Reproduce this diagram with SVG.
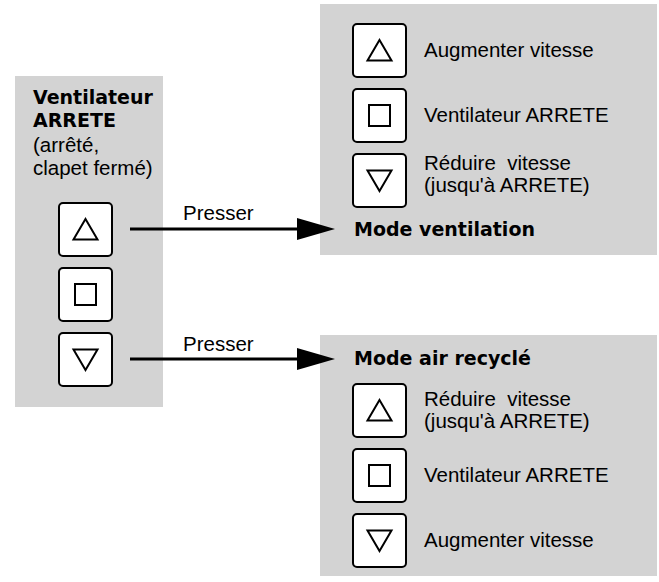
<svg xmlns="http://www.w3.org/2000/svg" xmlns:xlink="http://www.w3.org/1999/xlink" width="659" height="582" viewBox="0 0 659 582">
<style>
.panel{fill:#d3d3d3;stroke:none}
.btn{fill:#ffffff;stroke:#000;stroke-width:2}
.ico{fill:none;stroke:#000;stroke-width:2;stroke-linejoin:miter}
.t{font-family:"Liberation Sans",Arial,sans-serif;font-size:20.5px;fill:#000}
.b{font-family:"DejaVu Sans","Liberation Sans",sans-serif;font-weight:bold;font-size:19px;fill:#000}
.conn{stroke:#000;stroke-width:3;fill:none}
</style>
<defs>
<marker id="ah" markerUnits="userSpaceOnUse" markerWidth="38" markerHeight="22" refX="3" refY="11" orient="auto">
<path d="M0,0 L38,11 L0,22 Z" fill="#000"/>
</marker>
<g id="btn-up"><rect class="btn" x="1" y="1" width="53" height="53" rx="4"/><polygon class="ico" points="27.5,17 39.5,37.5 15.5,37.5"/></g>
<g id="btn-stop"><rect class="btn" x="1" y="1" width="53" height="53" rx="4"/><rect class="ico" x="17" y="17" width="21" height="21"/></g>
<g id="btn-down"><rect class="btn" x="1" y="1" width="53" height="53" rx="4"/><polygon class="ico" points="15.5,17.5 39.5,17.5 27.5,38"/></g>
</defs>

<g id="node-off">
<rect class="panel" x="15" y="76" width="148" height="331"/>
<text class="b" x="33" y="104">Ventilateur</text>
<text class="b" x="33" y="127">ARRETE</text>
<text class="t" x="33" y="152">(arrêté,</text>
<text class="t" x="33" y="175">clapet fermé)</text>
<use href="#btn-up" x="58" y="202"/>
<use href="#btn-stop" x="58" y="267"/>
<use href="#btn-down" x="58" y="332"/>
</g>

<g id="node-ventilation">
<rect class="panel" x="320" y="4" width="337" height="251"/>
<use href="#btn-up" x="352" y="23"/>
<use href="#btn-stop" x="352" y="88"/>
<use href="#btn-down" x="352" y="153"/>
<text class="t" x="424" y="57">Augmenter vitesse</text>
<text class="t" x="424" y="122">Ventilateur ARRETE</text>
<text class="t" x="424" y="170" xml:space="preserve">Réduire  vitesse</text>
<text class="t" x="424" y="192">(jusqu'à ARRETE)</text>
<text class="b" x="354" y="236">Mode ventilation</text>
</g>

<g id="node-recycle">
<rect class="panel" x="320" y="335" width="337" height="241"/>
<text class="b" x="354" y="365">Mode air recyclé</text>
<use href="#btn-up" x="352" y="383"/>
<use href="#btn-stop" x="352" y="448"/>
<use href="#btn-down" x="352" y="513"/>
<text class="t" x="424" y="406" xml:space="preserve">Réduire  vitesse</text>
<text class="t" x="424" y="428">(jusqu'à ARRETE)</text>
<text class="t" x="424" y="482">Ventilateur ARRETE</text>
<text class="t" x="424" y="547">Augmenter vitesse</text>
</g>

<g id="connectors">
<line class="conn" x1="130" y1="229" x2="300" y2="229" marker-end="url(#ah)"/>
<text class="t" x="183" y="220">Presser</text>
<line class="conn" x1="130" y1="359" x2="300" y2="359" marker-end="url(#ah)"/>
<text class="t" x="183" y="351">Presser</text>
</g>
</svg>
